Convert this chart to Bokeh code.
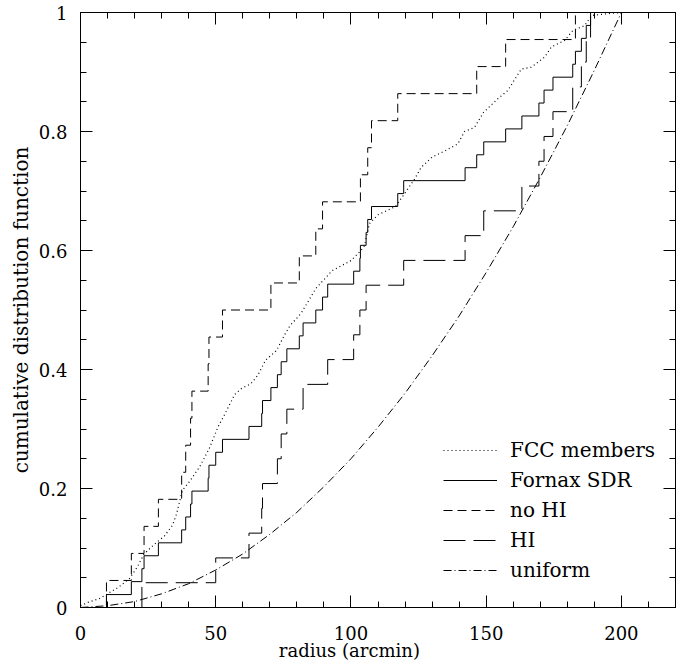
import numpy as np
from bokeh.plotting import figure
from bokeh.models import (Range1d, LinearAxis, FixedTicker, CustomJSTickFormatter,
                          Legend, LegendItem)
from bokeh.embed import file_html
from bokeh.resources import INLINE

# ---------------- data ----------------
# FCC members: cumulative distribution (dotted), sampled along the curve
fcc_r = [0, 3, 7, 10, 14, 18, 21, 23.5, 27.5, 31, 34, 35.5, 37.7, 40.5, 44, 47.5,
         50.8, 53.7, 57, 59.5, 63, 65.5, 68.5, 72.5, 75.3, 77.5, 81.5, 87, 93, 100,
         103.7, 105, 106.8, 110, 116.5, 120.5, 123.5, 126, 130, 135, 139.5, 142,
         145.7, 149, 154.3, 158, 163, 166.7, 171.6, 174.1, 179, 182.1, 186.4, 189,
         195, 200]
fcc_cdf = [0.003, 0.009, 0.015, 0.023, 0.034, 0.048, 0.068, 0.09, 0.107, 0.12,
           0.138, 0.157, 0.197, 0.213, 0.236, 0.266, 0.303, 0.328, 0.358, 0.368,
           0.376, 0.39, 0.416, 0.432, 0.457, 0.474, 0.494, 0.536, 0.566, 0.583,
           0.6, 0.608, 0.645, 0.66, 0.674, 0.7, 0.72, 0.74, 0.757, 0.768, 0.779,
           0.8, 0.807, 0.832, 0.855, 0.869, 0.905, 0.908, 0.925, 0.942, 0.953,
           0.97, 0.978, 0.995, 0.998, 1.0]

# Fornax SDR galaxies (solid): radii of the steps, arcmin
sdr_r = [9.6, 18.8, 22.7, 23.5, 28.8, 37.4, 38.9, 40.7, 41.2, 47.2, 47.5, 50.0,
         52.5, 62.3, 67.0, 67.3, 70.4, 72.8, 74.2, 76.3, 80.9, 82.3, 87.0, 89.5,
         91.4, 101.0, 103.3, 103.5, 105.6, 106.2, 107.6, 117.3, 119.5, 142.2,
         146.5, 149.1, 157.2, 163.2, 169.5, 171.4, 174.7, 182.0, 183.0, 185.2,
         187.0, 188.6]

# no HI detection (short dashes)
nohi_r = [9.6, 18.8, 23.5, 28.8, 37.4, 38.9, 40.7, 41.2, 47.2, 47.5, 52.5, 70.4,
          80.9, 87.0, 89.5, 103.5, 106.2, 107.6, 117.3, 146.5, 157.2, 183.0]

# HI detected (long dashes)
hi_r = [22.7, 50.0, 62.3, 67.0, 67.3, 72.8, 74.2, 76.3, 82.3, 91.4, 101.0, 103.3,
        105.6, 119.5, 142.2, 149.1, 163.2, 169.5, 171.4, 174.7, 182.0, 185.2,
        187.0, 188.6]

# uniform distribution (dash-dot)
uni_r = [0, 10, 20, 30, 40, 50, 60, 70, 80, 90, 100, 110, 120, 130, 140, 150,
         160, 170, 180, 190, 200]
uni_cdf = [0, 0.003, 0.01, 0.023, 0.04, 0.063, 0.09, 0.123, 0.16, 0.203, 0.25,
           0.303, 0.36, 0.423, 0.49, 0.563, 0.64, 0.723, 0.81, 0.903, 1.0]

x_ticks = [0, 50, 100, 150, 200]
x_minor = [10, 20, 30, 40, 60, 70, 80, 90, 110, 120, 130, 140, 160, 170, 180, 190, 210, 220]
y_ticks = [0, 0.2, 0.4, 0.6, 0.8, 1.0]
y_minor = [0.05, 0.1, 0.15, 0.25, 0.3, 0.35, 0.45, 0.5, 0.55, 0.65, 0.7, 0.75,
           0.85, 0.9, 0.95]

labels = ["FCC members", "Fornax SDR", "no HI", "HI", "uniform"]
x_title = "radius (arcmin)"
y_title = "cumulative distribution function"


def ecdf(radii):
    n = len(radii)
    xs = [0.0] + list(radii)
    ys = [0.0] + [(i + 1) / n for i in range(n)]
    return xs, ys


FONT = "DejaVu Serif"

# trailing no-break spaces shift the centred x title a little to the left, as in the reference
p = figure(frame_width=595, frame_height=595, output_backend="svg",
           toolbar_location=None, x_range=Range1d(0, 220), y_range=Range1d(0, 1),
           min_border_left=80, min_border_right=2, min_border_top=12,
           min_border_bottom=50, x_axis_label=x_title + "\u00a0" * 10,
           y_axis_label=y_title)
p.xgrid.visible = False
p.ygrid.visible = False
p.outline_line_color = "black"
p.outline_line_width = 1
p.background_fill_color = "white"
p.border_fill_color = "white"

fmt = CustomJSTickFormatter(code="return String(Math.round(tick*100)/100);")


def style(ax, ticks, minor, show):
    ax.ticker = FixedTicker(ticks=ticks, minor_ticks=minor)
    ax.major_tick_in = 12
    ax.major_tick_out = 0
    ax.minor_tick_in = 6
    ax.minor_tick_out = 0
    ax.axis_line_color = "black"
    ax.major_tick_line_color = "black"
    ax.minor_tick_line_color = "black"
    if show:
        ax.formatter = fmt
        ax.major_label_text_font = FONT
        ax.major_label_text_font_size = "18px"
        ax.major_label_text_color = "black"
        ax.axis_label_text_font = FONT
        ax.axis_label_text_font_style = "normal"
        ax.axis_label_text_color = "black"
    else:
        ax.formatter = CustomJSTickFormatter(code="return '';")
        ax.major_label_text_font_size = "0px"
        ax.major_label_standoff = 0


style(p.xaxis[0], x_ticks, x_minor, True)
p.xaxis[0].major_label_standoff = 18
p.xaxis[0].axis_label_standoff = -3
p.xaxis[0].axis_label_text_font_size = "18px"
style(p.yaxis[0], y_ticks, y_minor, True)
p.yaxis[0].major_label_standoff = 13
p.yaxis[0].axis_label_standoff = 3
p.yaxis[0].axis_label_text_font_size = "20px"

top = LinearAxis()
style(top, x_ticks, x_minor, False)
p.add_layout(top, "above")
right = LinearAxis()
style(right, y_ticks, y_minor, False)
p.add_layout(right, "right")

xs, ys = ecdf(sdr_r)
r_sdr = p.step(xs, ys, mode="after", line_color="black", line_width=1)
xs, ys = ecdf(nohi_r)
r_nohi = p.step(xs, ys, mode="after", line_color="black", line_width=1,
                line_dash="9 5")
xs, ys = ecdf(hi_r)
r_hi = p.step(xs, ys, mode="after", line_color="black", line_width=1,
              line_dash="22 8")
r_fcc = p.line(fcc_r, fcc_cdf, line_color="black", line_width=1.2,
               line_dash="1 3")
r_uni = p.line(uni_r, uni_cdf, line_color="black", line_width=1,
               line_dash="8 3 1 3")

legend = Legend(items=[LegendItem(label=labels[0], renderers=[r_fcc]),
                       LegendItem(label=labels[1], renderers=[r_sdr]),
                       LegendItem(label=labels[2], renderers=[r_nohi]),
                       LegendItem(label=labels[3], renderers=[r_hi]),
                       LegendItem(label=labels[4], renderers=[r_uni])],
                location=(353, 15), border_line_alpha=0, background_fill_alpha=0,
                glyph_width=54, glyph_height=20, label_height=20,
                label_standoff=13, spacing=6, padding=10, margin=0,
                label_text_font=FONT, label_text_font_size="20px",
                label_text_color="black")
p.add_layout(legend)

open("out.html", "w").write(file_html(p, INLINE))
